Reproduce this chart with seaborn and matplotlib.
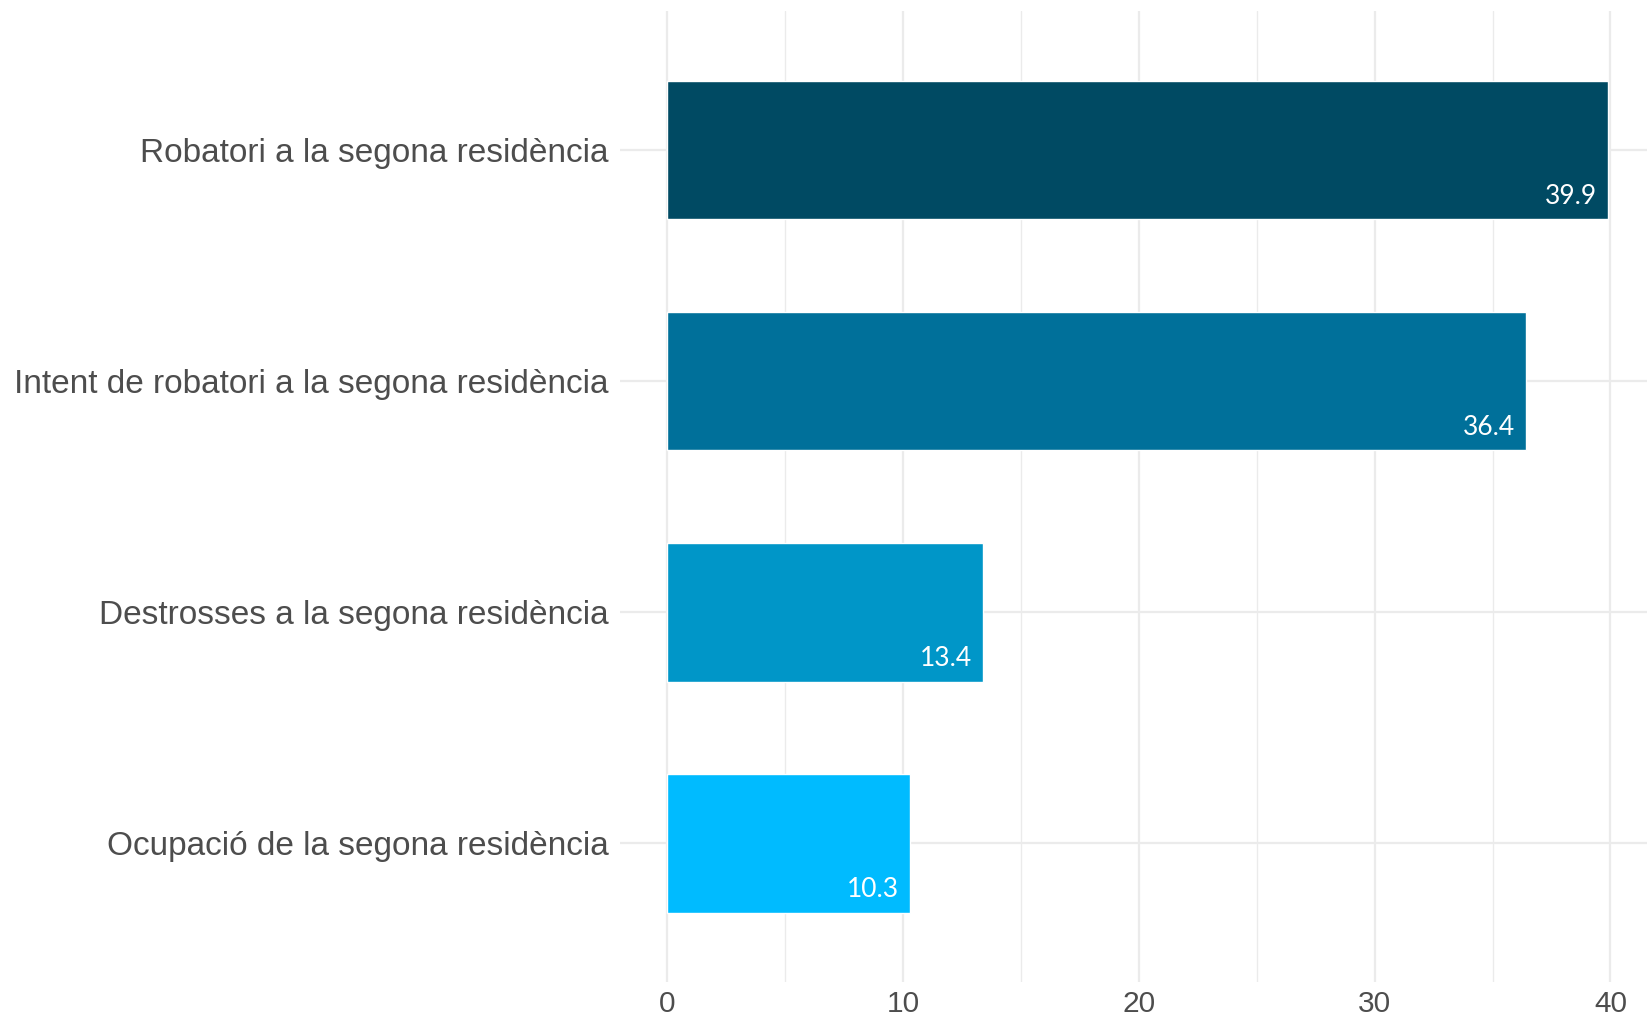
import matplotlib
matplotlib.use("Agg")
import matplotlib.pyplot as plt
import seaborn as sns
import pandas as pd

# Chart data
categories = [
    "Robatori a la segona residència",
    "Intent de robatori a la segona residència",
    "Destrosses a la segona residència",
    "Ocupació de la segona residència",
]
values = [39.9, 36.4, 13.4, 10.3]
colors = ["#004A63", "#00709A", "#0096C8", "#00BBFF"]
x_ticks = [0, 10, 20, 30, 40]

df = pd.DataFrame({"cat": categories, "val": values})

sns.set_style("white")
plt.rcParams["font.family"] = ["Liberation Sans", "DejaVu Sans"]

fig = plt.figure(figsize=(16.47, 10.16), dpi=100)
ax = fig.add_axes([620 / 1647, 1 - 982 / 1016, 1 - 620 / 1647, (982 - 11.4) / 1016])

sns.barplot(data=df, x="val", y="cat", hue="cat", order=categories,
            palette=colors, legend=False, width=0.6, saturation=1,
            orient="h", ax=ax, zorder=2)

ax.set_xlim(-1.995, 41.55)
ax.set_ylim(3.6, -0.6)

# grid like theme_minimal
for v in range(0, 45, 5):
    ax.axvline(v, color="#EBEBEB", lw=1.6 if v % 10 == 0 else 1.0, zorder=0)
for i in range(len(categories)):
    ax.axhline(i, color="#EBEBEB", lw=1.6, zorder=0)

# value labels inside bars
for i, v in enumerate(values):
    ax.text(v - 0.45, i + 0.2, f"{v}", ha="right", va="center",
            color="white", fontsize=19, family=["Lato", "DejaVu Sans"], zorder=3)

ax.set_xticks(x_ticks)
ax.set_xticklabels([str(t) for t in x_ticks], fontsize=21.5, color="#4D4D4D")
ax.tick_params(axis="y", labelsize=24, labelcolor="#4D4D4D", length=0, pad=8)
ax.tick_params(axis="x", length=0, pad=6)
ax.set_xlabel("")
ax.set_ylabel("")
for s in ax.spines.values():
    s.set_visible(False)

fig.savefig("out.png", dpi=100)
